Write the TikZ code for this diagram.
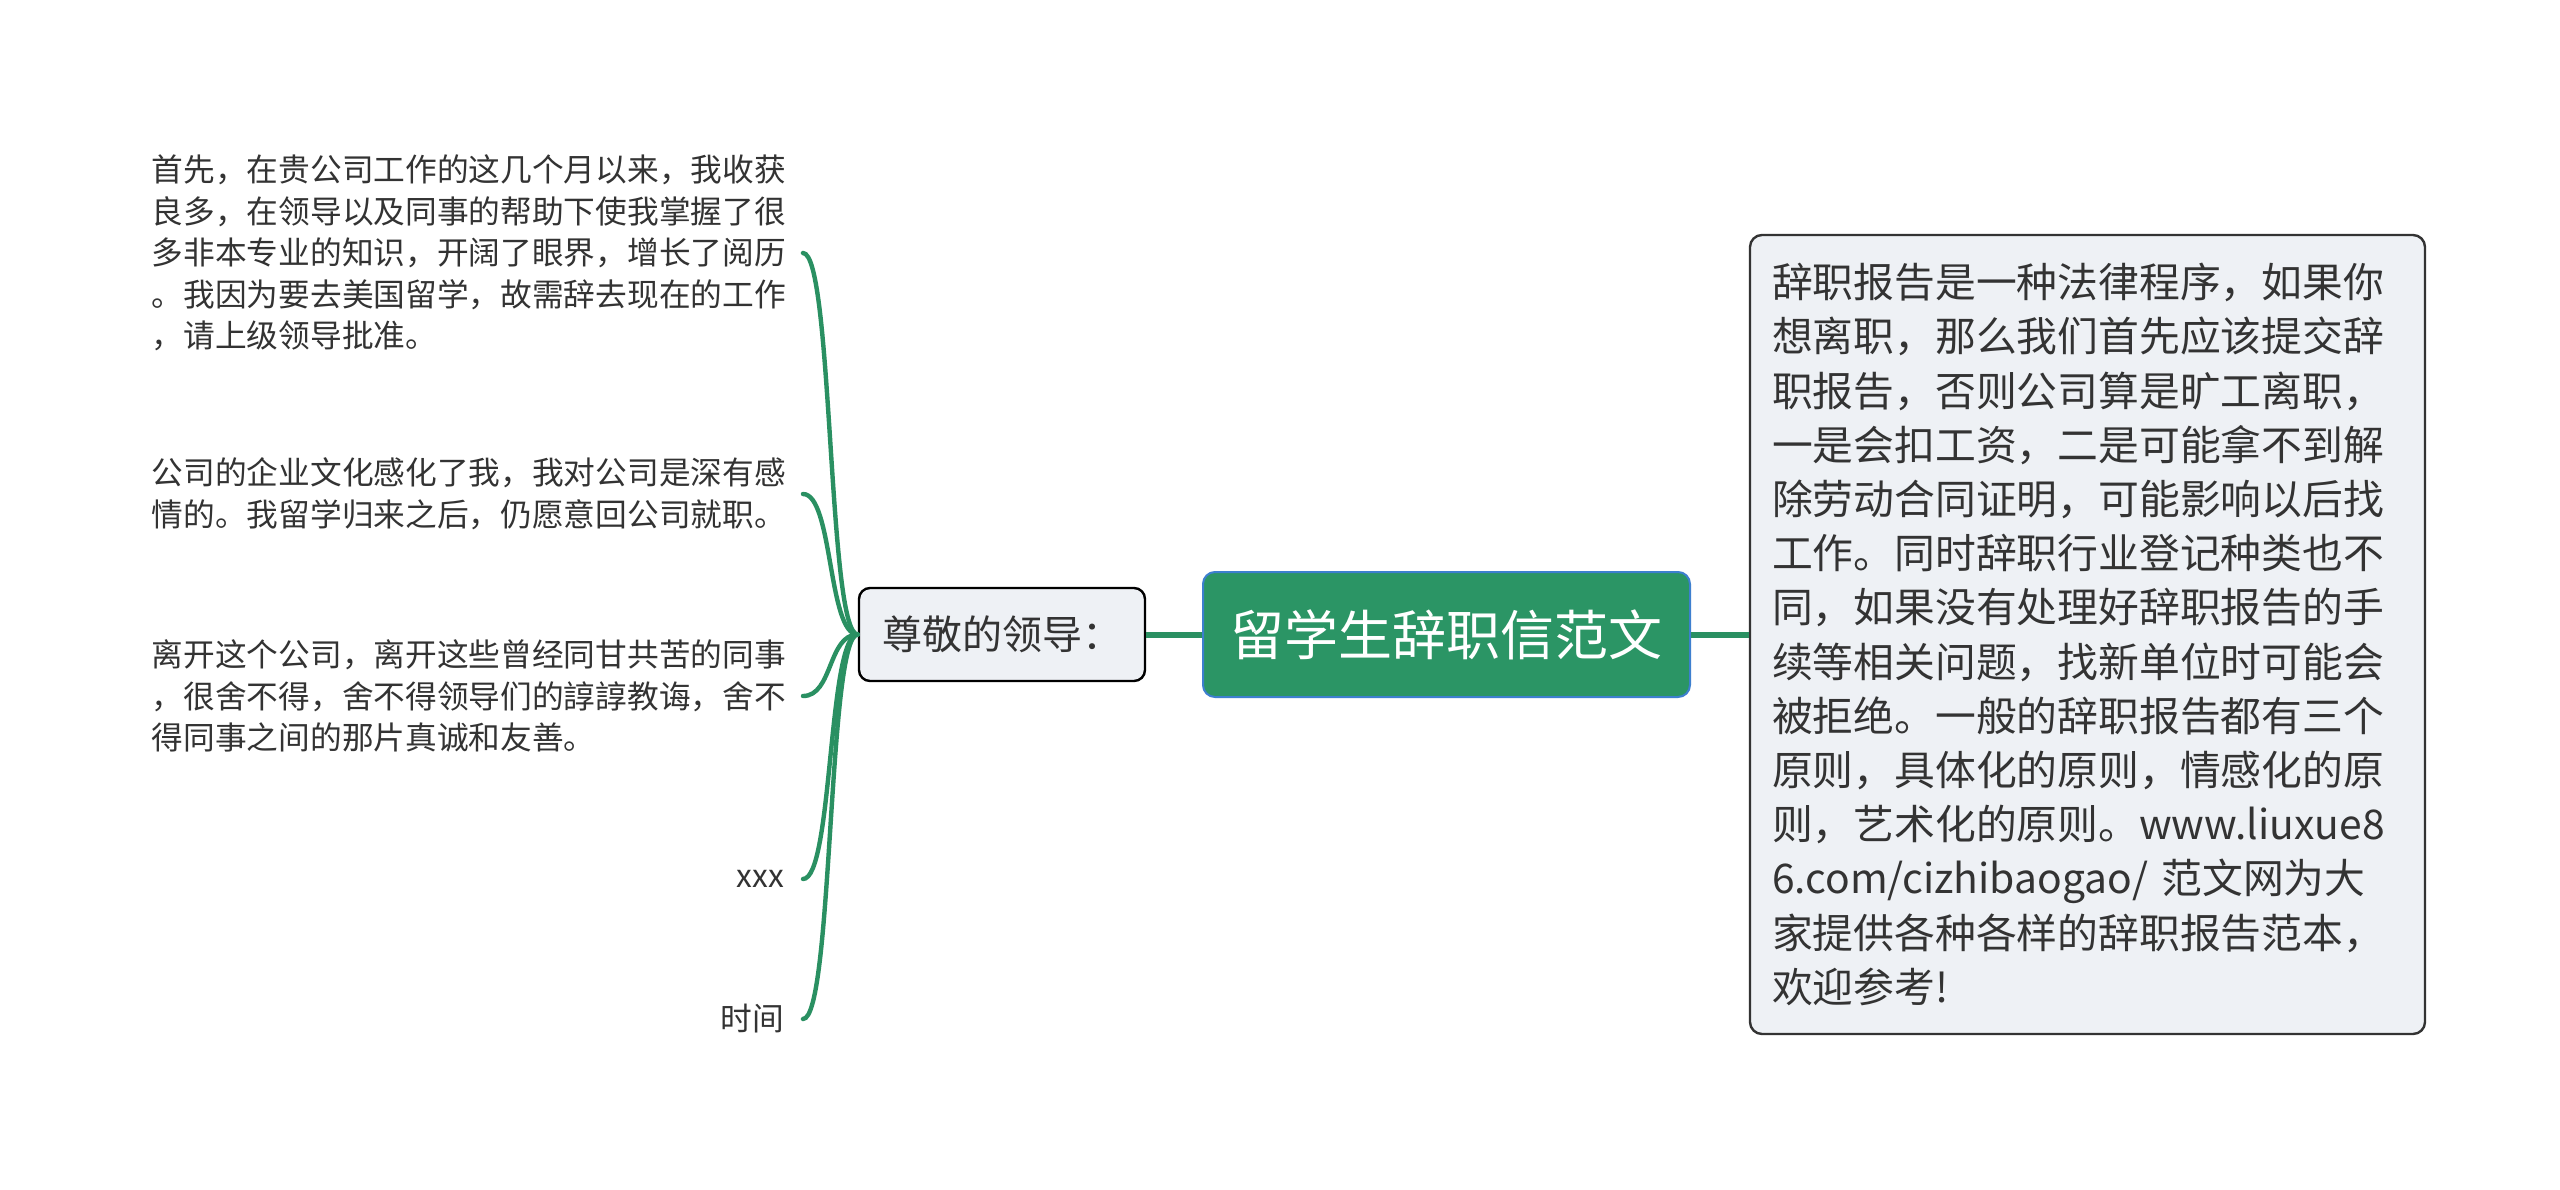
\documentclass[tikz,border=0pt]{standalone}
\usepackage{fontspec}
\setmainfont{Noto Sans CJK SC}
\definecolor{txt}{HTML}{333333}
\definecolor{branch}{HTML}{2A9062}
\definecolor{rootfill}{HTML}{2B9565}
\definecolor{rootline}{HTML}{3D7FCF}
\definecolor{boxfill}{HTML}{EEF1F5}
\begin{document}
\begin{tikzpicture}[x=1pt,y=-1pt,
  leaf/.style={anchor=east,inner xsep=17pt,inner ysep=0pt,align=left,text=txt,
    font=\fontsize{31.7}{41.6}\selectfont},
  leafr/.style={anchor=east,inner xsep=19pt,inner ysep=0pt,align=right,text=txt,
    font=\fontsize{31.7}{41.6}\selectfont},
  twig/.style={draw=branch,line width=4.4pt,line cap=round},
  trunk/.style={draw=branch,line width=6pt},
  rootbox/.style={draw=rootline,line width=2pt,fill=rootfill,rounded corners=12pt,
    minimum width=487pt,minimum height=125pt,text=white,
    font=\fontsize{54}{60}\selectfont},
  subbox/.style={draw=black,line width=2.4pt,fill=boxfill,rounded corners=11pt,
    minimum width=286pt,minimum height=93pt,text=txt,
    font=\fontsize{40}{46}\selectfont},
  notebox/.style={draw=txt,line width=2.4pt,fill=boxfill,rounded corners=12pt,
    minimum width=675pt,minimum height=799pt,inner xsep=22pt,text=txt,
    align=left,text width=631pt,font=\fontsize{40.8}{54.2}\selectfont}]
\useasboundingbox[fill=white] (0,0) rectangle (2560,1189);

\node[rootbox] (root) at (1446.5,634.5) {留学生辞职信范文};
\node[subbox] (lead) at (1002,634.5) {尊敬的领导：};
\node[notebox] (note) at (2087.5,634.5) {辞职报告是一种法律程序，如果你\\
想离职，那么我们首先应该提交辞\\
职报告，否则公司算是旷工离职，\\
一是会扣工资，二是可能拿不到解\\
除劳动合同证明，可能影响以后找\\
工作。同时辞职行业登记种类也不\\
同，如果没有处理好辞职报告的手\\
续等相关问题，找新单位时可能会\\
被拒绝。一般的辞职报告都有三个\\
原则，具体化的原则，情感化的原\\
则，艺术化的原则。www.liuxue8\\
6.com/cizhibaogao/ 范文网为大\\
家提供各种各样的辞职报告范本，\\
欢迎参考!};

\node[leaf] (l1) at (803,253) {首先，在贵公司工作的这几个月以来，我收获\\
良多，在领导以及同事的帮助下使我掌握了很\\
多非本专业的知识，开阔了眼界，增长了阅历\\
。我因为要去美国留学，故需辞去现在的工作\\
，请上级领导批准。};
\node[leaf] (l2) at (803,494) {公司的企业文化感化了我，我对公司是深有感\\
情的。我留学归来之后，仍愿意回公司就职。};
\node[leaf] (l3) at (803,696) {离开这个公司，离开这些曾经同甘共苦的同事\\
，很舍不得，舍不得领导们的諄諄教诲，舍不\\
得同事之间的那片真诚和友善。};
\node[leafr] (l4) at (803,879) {xxx};
\node[leafr] (l5) at (803,1019) {时间};

\draw[trunk] (root.west) -- (lead.east);
\draw[trunk] (root.east) -- (note.west);

\foreach \n in {l1,l2,l3,l4,l5}{
  \draw[twig] (lead.west) .. controls ([xshift=-30pt]lead.west) and ([xshift=30pt]\n.east) .. (\n.east);
}
\end{tikzpicture}
\end{document}
